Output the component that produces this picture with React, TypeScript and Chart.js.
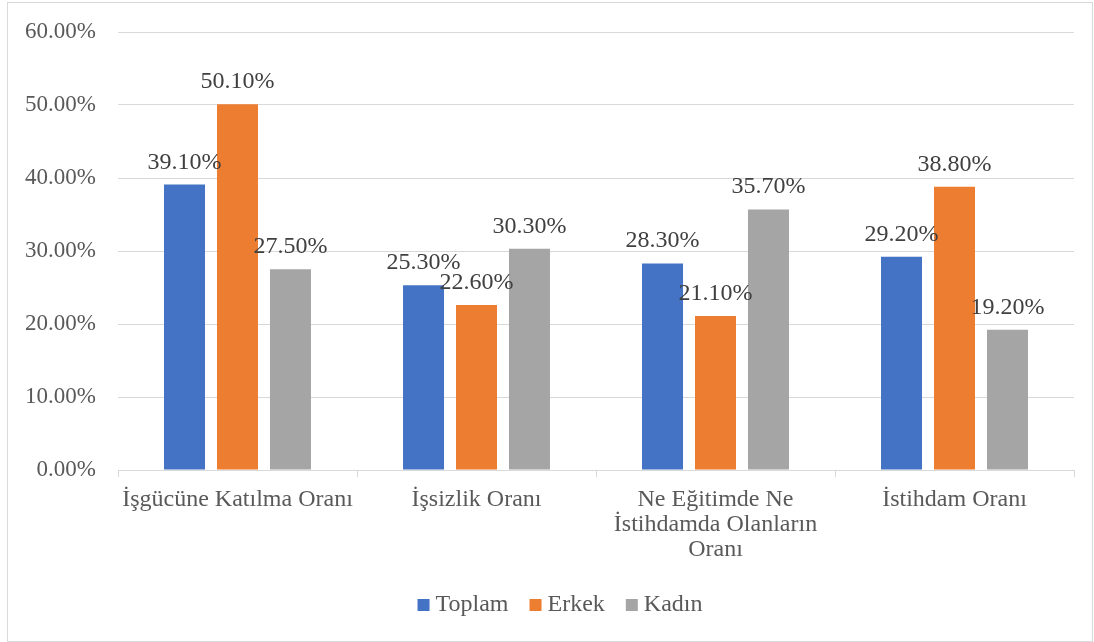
import React, { useEffect, useRef } from "react";
import { Chart, registerables } from "chart.js";

Chart.register(...registerables);

const categories: (string | string[])[] = [
  "İşgücüne Katılma Oranı",
  "İşsizlik Oranı",
  ["Ne Eğitimde Ne", "İstihdamda Olanların", "Oranı"],
  "İstihdam Oranı",
];
const seriesNames = ["Toplam", "Erkek", "Kadın"];
const toplam = [39.1, 25.3, 28.3, 29.2];
const erkek = [50.1, 22.6, 21.1, 38.8];
const kadin = [27.5, 30.3, 35.7, 19.2];
const colors = ["#4472C4", "#ED7D31", "#A5A5A5"];
const yMin = 0;
const yMax = 60;
const yStep = 10;

const FONT = "'Times New Roman', 'Liberation Serif', serif";
const TEXT = "#595959";
const GRID = "#d9d9d9";

const borderPlugin = {
  id: "outerBorder",
  beforeDraw(chart: any) {
    const ctx = chart.ctx;
    ctx.save();
    ctx.fillStyle = "#ffffff";
    ctx.fillRect(0, 0, chart.width, chart.height);
    ctx.strokeStyle = GRID;
    ctx.lineWidth = 1;
    ctx.strokeRect(7.5, 2.5, chart.width - 9, chart.height - 3);
    ctx.restore();
  },
};

const labelPlugin = {
  id: "valueLabels",
  afterDatasetsDraw(chart: any) {
    const ctx = chart.ctx;
    ctx.save();
    ctx.font = `24px ${FONT}`;
    ctx.fillStyle = "#404040";
    ctx.textAlign = "center";
    ctx.textBaseline = "alphabetic";
    chart.data.datasets.forEach((ds: any, i: number) => {
      const meta = chart.getDatasetMeta(i);
      meta.data.forEach((el: any, j: number) => {
        const v = ds.data[j] as number;
        ctx.fillText(v.toFixed(2) + "%", el.x, el.y - 16);
      });
    });
    ctx.restore();
  },
};

const legendPlugin = {
  id: "customLegend",
  afterDraw(chart: any) {
    const ctx = chart.ctx;
    ctx.save();
    ctx.font = `24px ${FONT}`;
    const box = 12;
    const gap = 6;
    const itemGap = 21;
    const widths = seriesNames.map((n) => ctx.measureText(n).width);
    const total =
      widths.reduce((a, w) => a + box + gap + w, 0) + itemGap * (seriesNames.length - 1);
    let x = 560 - total / 2;
    const cy = 605;
    ctx.textBaseline = "middle";
    ctx.textAlign = "left";
    seriesNames.forEach((n, i) => {
      ctx.fillStyle = colors[i];
      ctx.fillRect(x, cy - box / 2, box, box);
      x += box + gap;
      ctx.fillStyle = TEXT;
      ctx.fillText(n, x, cy);
      x += widths[i] + itemGap;
    });
    ctx.restore();
  },
};

export default function App() {
  const ref = useRef<HTMLCanvasElement>(null);

  useEffect(() => {
    if (!ref.current) return;
    const chart = new Chart(ref.current, {
      type: "bar",
      data: {
        labels: categories as any,
        datasets: [toplam, erkek, kadin].map((d, i) => ({
          label: seriesNames[i],
          data: d,
          backgroundColor: colors[i],
          borderWidth: 0,
          categoryPercentage: 0.665,
          barPercentage: 0.774,
        })),
      },
      options: {
        animation: false,
        responsive: false,
        devicePixelRatio: 1,
        layout: { padding: { top: 32, right: 20, bottom: 72, left: 0 } },
        plugins: {
          legend: { display: false },
          tooltip: { enabled: false },
        },
        scales: {
          x: {
            afterFit: (s: any) => {
              s.height = 100;
            },
            grid: {
              offset: true,
              drawOnChartArea: false,
              drawTicks: true,
              tickLength: 7,
              color: GRID,
              tickColor: GRID,
            },
            border: { display: true, color: GRID, width: 1 },
            ticks: {
              color: TEXT,
              font: { family: FONT, size: 24, lineHeight: 1.04 },
              padding: 10,
              maxRotation: 0,
              minRotation: 0,
              autoSkip: false,
            },
          },
          y: {
            min: yMin,
            max: yMax,
            afterFit: (s: any) => {
              s.width = 118;
              s.paddingTop = 0;
              s.paddingBottom = 0;
            },
            grid: { color: GRID, drawTicks: false, lineWidth: 1 },
            border: { display: false },
            ticks: {
              stepSize: yStep,
              color: TEXT,
              padding: 22,
              font: { family: FONT, size: 23 },
              callback: (v: any) => Number(v).toFixed(2) + "%",
            },
          },
        },
      },
      plugins: [borderPlugin, labelPlugin, legendPlugin],
    });
    return () => chart.destroy();
  }, []);

  return (
    <div style={{ position: "fixed", left: 0, top: 0, width: 1094, height: 642 }}>
      <canvas ref={ref} width={1094} height={642} style={{ display: "block" }} />
    </div>
  );
}
